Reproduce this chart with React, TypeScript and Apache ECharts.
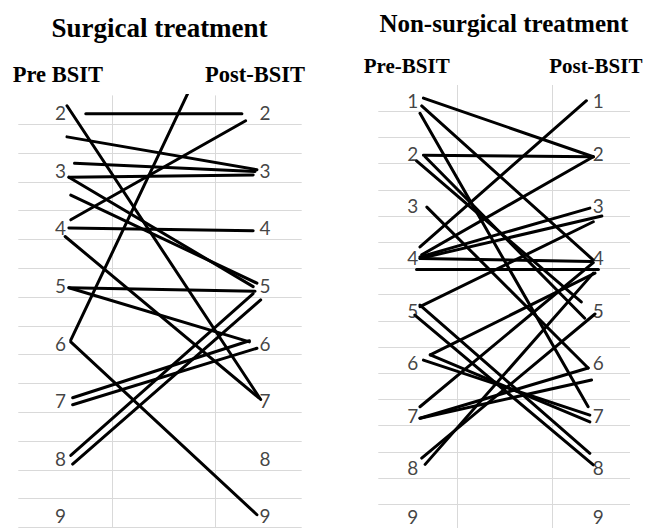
import React, { useEffect, useRef } from "react";
import * as echarts from "echarts";

// ---------- DATA ----------
// Surgical treatment: rank before (Pre BSIT) and after (Post-BSIT), as drawn
const surgPre = [2.02, 1.88, 5.95, 3.86, 2.42, 2.88, 3.12, 3.12, 3.43, 4.0, 4.15, 5.04, 5.04, 5.98, 6.95, 7.07, 7.95, 8.1];
const surgPost = [2.02, 6.98, -0.8, 2.14, 2.99, 3.02, 3.08, 5.02, 4.96, 4.05, 6.95, 5.1, 5.98, 8.98, 5.96, 6.09, 5.14, 5.25];
const surgPreX = [0.1, 0, 0.02, 0.02, 0, 0.04, 0.01, 0.01, 0.02, 0.01, -0.01, 0.01, 0.01, 0.02, 0.03, 0.03, 0.02, 0.03];
const surgPostX = [0.93, 1.03, 1, 0.95, 1.01, 1, 0.99, 0.99, 1.01, 0.99, 1.02, 1, 0.97, 1.01, 0.97, 1.01, 0.99, 1.03];

// Non-surgical treatment
const nonPre = [0.95, 1.1, 1.24, 2.04, 2.07, 2.15, 3.03, 3.79, 3.94, 3.98, 4.01, 4.01, 4.22, 4.93, 4.9, 5.09, 5.85, 5.95, 6.84, 7.06, 7.06, 7.82, 7.94, 5.85];
const nonPost = [2.07, 4.04, 6.84, 2.07, 5.15, 4.84, 6.1, 1.0, 2.07, 3.05, 3.2, 4.07, 4.22, 3.31, 7.73, 7.95, 4.29, 7.0, 4.09, 6.1, 6.33, 5.07, 4.29, 7.13];
const nonPreX = [0.01, 0, -0.01, 0.01, 0.02, -0.03, 0.03, -0.01, 0, -0.01, -0.01, -0.01, -0.03, -0.01, -0.01, -0.04, 0.05, 0.01, -0.01, -0.01, -0.01, 0, 0.02, 0.05];
const nonPostX = [1.0, 1.0, 0.97, 1.0, 0.95, 0.93, 0.97, 0.96, 1.0, 0.98, 1.05, 0.99, 1.03, 1.0, 0.98, 1.0, 1.01, 0.98, 1.0, 0.97, 0.99, 1.01, 1.0, 0.98];

// Rank tick labels
const surgRanks = [2, 3, 4, 5, 6, 7, 8, 9];
const nonRanks = [1, 2, 3, 4, 5, 6, 7, 8, 9];

// Titles
const titleSurg = "Surgical treatment";
const titleNon = "Non-surgical treatment";
const preSurg = "Pre BSIT";
const preNon = "Pre-BSIT";
const postLabel = "Post-BSIT";

export default function App() {
  const ref = useRef<HTMLDivElement>(null);

  useEffect(() => {
    if (!ref.current) return;
    const chart = echarts.init(ref.current, null, { renderer: "svg" });

    // layout
    const H = 528;
    const g0 = { left: 18.3, top: 95.4, width: 283.4, unit: 57.6, min: 1.7, xmin: -0.259, xmax: 1.248, labL: -0.034, labR: 1.053, vlines: [0.243, 0.787] };
    const g1 = { left: 378.3, top: 85, width: 251.7, unit: 52.4, min: 0.7, xmin: -0.253, xmax: 1.214, labL: -0.052, labR: 1.029, vlines: [0.213, 0.758] };
    const grids = [g0, g1].map((g) => ({ ...g, height: H - g.top }));

    const lineColor = "#000";
    const gridColor = "#d9d9d9";
    const digitFont = "Lato, 'Open Sans', sans-serif";
    const serif = "'Liberation Serif', 'DejaVu Serif', serif";

    const series: any[] = [];
    const addLines = (pre: number[], post: number[], px: number[], qx: number[], idx: number) => {
      pre.forEach((p, i) => {
        series.push({
          type: "line",
          xAxisIndex: idx,
          yAxisIndex: idx,
          data: [[px[i], p], [qx[i], post[i]]],
          symbol: "none",
          silent: true,
          z: 3,
          lineStyle: { color: lineColor, width: 3, cap: "round" },
        });
      });
    };
    addLines(surgPre, surgPost, surgPreX, surgPostX, 0);
    addLines(nonPre, nonPost, nonPreX, nonPostX, 1);

    const addLabels = (ranks: number[], idx: number) => {
      const g = grids[idx];
      const data: any[] = [];
      ranks.forEach((r) => {
        const py = g.top + (r - g.min) * g.unit;
        const lift = Math.min(0, H - 12 - py);
        const item = (x: number) => ({ value: [x, r], label: { offset: [0, lift] } });
        data.push(item(g.labL));
        data.push(item(g.labR));
      });
      series.push({
        type: "scatter",
        xAxisIndex: idx,
        yAxisIndex: idx,
        data,
        symbolSize: 0,
        silent: true,
        clip: false,
        z: 4,
        label: {
          show: true,
          position: "inside",
          formatter: (p: any) => String(p.value[1]),
          color: "#111",
          fontSize: 19,
          lineHeight: 14,
          fontFamily: digitFont,
        },
        markLine: {
          silent: true,
          symbol: "none",
          z: 1,
          label: { show: false },
          lineStyle: { color: gridColor, width: 1, type: "solid" },
          data: g.vlines.map((v) => ({ xAxis: v })),
        },
      });
    };
    addLabels(surgRanks, 0);
    addLabels(nonRanks, 1);

    const option: any = {
      animation: false,
      backgroundColor: "#fff",
      grid: grids.map((g) => ({ left: g.left, top: g.top, width: g.width, height: g.height, containLabel: false })),
      xAxis: grids.map((g, i) => ({
        type: "value",
        gridIndex: i,
        min: g.xmin,
        max: g.xmax,
        axisLine: { show: false },
        axisTick: { show: false },
        axisLabel: { show: false },
        splitLine: { show: false },
      })),
      yAxis: grids.map((g, i) => ({
        type: "value",
        gridIndex: i,
        inverse: true,
        min: g.min,
        max: g.min + g.height / g.unit,
        interval: 0.5,
        axisLine: { show: false },
        axisTick: { show: false },
        axisLabel: { show: false },
        splitLine: { show: true, showMinLine: false, showMaxLine: false, lineStyle: { color: gridColor, width: 1 } },
      })),
      graphic: [
        { type: "text", x: 159.5, y: 28, style: { text: titleSurg, font: `bold 27px ${serif}`, fill: "#000", textAlign: "center", textVerticalAlign: "middle" } },
        { type: "text", x: 503.8, y: 23.5, style: { text: titleNon, font: `bold 25px ${serif}`, fill: "#000", textAlign: "center", textVerticalAlign: "middle" } },
        { type: "text", x: 57.8, y: 74.3, style: { text: preSurg, font: `bold 22.5px ${serif}`, fill: "#000", textAlign: "center", textVerticalAlign: "middle" } },
        { type: "text", x: 255, y: 74.3, style: { text: postLabel, font: `bold 22.5px ${serif}`, fill: "#000", textAlign: "center", textVerticalAlign: "middle" } },
        { type: "text", x: 406.7, y: 66.4, style: { text: preNon, font: `bold 21px ${serif}`, fill: "#000", textAlign: "center", textVerticalAlign: "middle" } },
        { type: "text", x: 595.8, y: 66.4, style: { text: postLabel, font: `bold 21px ${serif}`, fill: "#000", textAlign: "center", textVerticalAlign: "middle" } },
      ],
      series,
    };

    chart.setOption(option);
    return () => chart.dispose();
  }, []);

  return (
    <div style={{ position: "fixed", left: 0, top: 0, width: 645, height: 528, overflow: "hidden", background: "#fff" }}>
      <div ref={ref} style={{ width: 645, height: 528 }} />
    </div>
  );
}
